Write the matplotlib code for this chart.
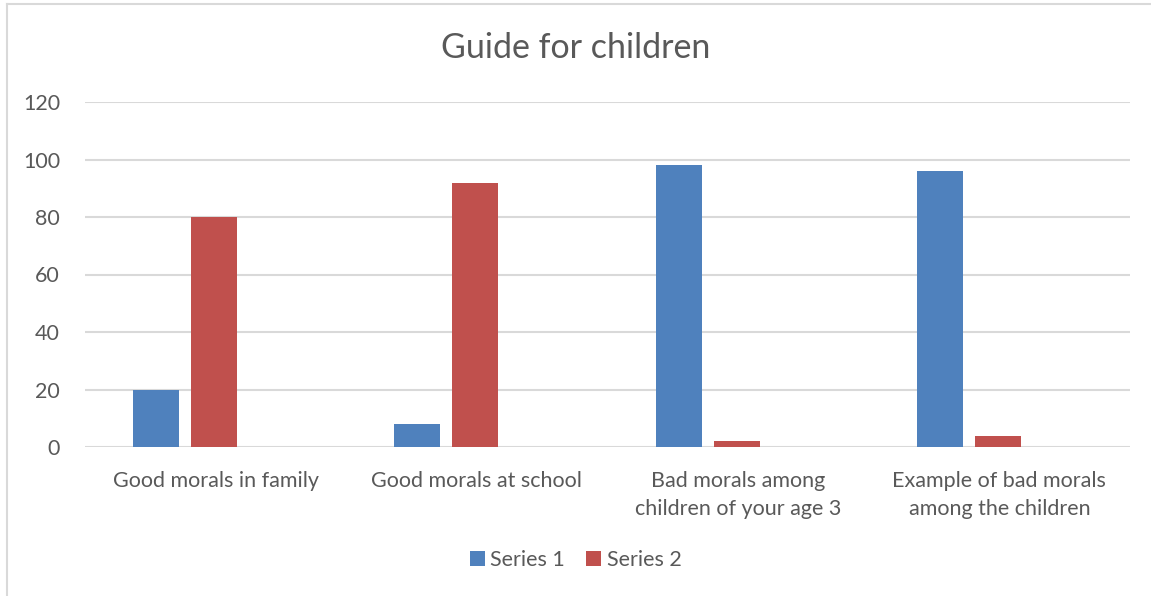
import matplotlib.pyplot as plt
import numpy as np

categories = ['Good morals in family', 'Good morals at school',
              'Bad morals among\nchildren of your age 3', 'Example of bad morals\namong the children']
series1 = [20, 8, 98, 96]
series2 = [80, 92, 2, 4]

plt.rcParams['font.family'] = ['Lato', 'DejaVu Sans']
text_color = '#595959'

fig = plt.figure(figsize=(11.51, 5.96), dpi=100)
ax = fig.add_axes([85 / 1151, 1 - 447 / 596, 1045 / 1151, 345 / 596])

x = np.arange(len(categories))
width = 0.176
ax.bar(x - 0.228, series1, width, color='#4F81BD', label='Series 1', zorder=3)
ax.bar(x - 0.006, series2, width, color='#C0504D', label='Series 2', zorder=3)

ax.set_xlim(-0.5, len(categories) - 0.5)
ax.set_ylim(0, 120)
ax.set_yticks(range(0, 121, 20))
ax.set_xticks(x)
ax.set_xticklabels(categories, linespacing=1.55)
ax.tick_params(axis='both', length=0, labelsize=15.5, colors=text_color)
ax.tick_params(axis='y', pad=18)
ax.tick_params(axis='x', pad=17)
ax.grid(axis='y', color='#d9d9d9', linewidth=1.5, zorder=0)
for s in ax.spines.values():
    s.set_visible(False)

fig.text(0.5, 1 - 48 / 596, 'Guide for children', ha='center', va='center',
         fontsize=24.5, color=text_color)

leg = ax.legend(loc='center', bbox_to_anchor=(0.5, 1 - 560 / 596), bbox_transform=fig.transFigure,
                ncol=2, frameon=False, fontsize=15.5, handlelength=0.7, handleheight=0.7,
                handletextpad=0.25, columnspacing=1.0)
for t in leg.get_texts():
    t.set_color(text_color)

# chart border (left and top edges visible)
fig.add_artist(plt.Line2D([7 / 1151, 7 / 1151], [0, 1 - 4 / 596], transform=fig.transFigure,
                          color='#d9d9d9', linewidth=1.5))
fig.add_artist(plt.Line2D([7 / 1151, 1], [1 - 4 / 596, 1 - 4 / 596], transform=fig.transFigure,
                          color='#d9d9d9', linewidth=1.5))

fig.savefig('out.png', dpi=100)
